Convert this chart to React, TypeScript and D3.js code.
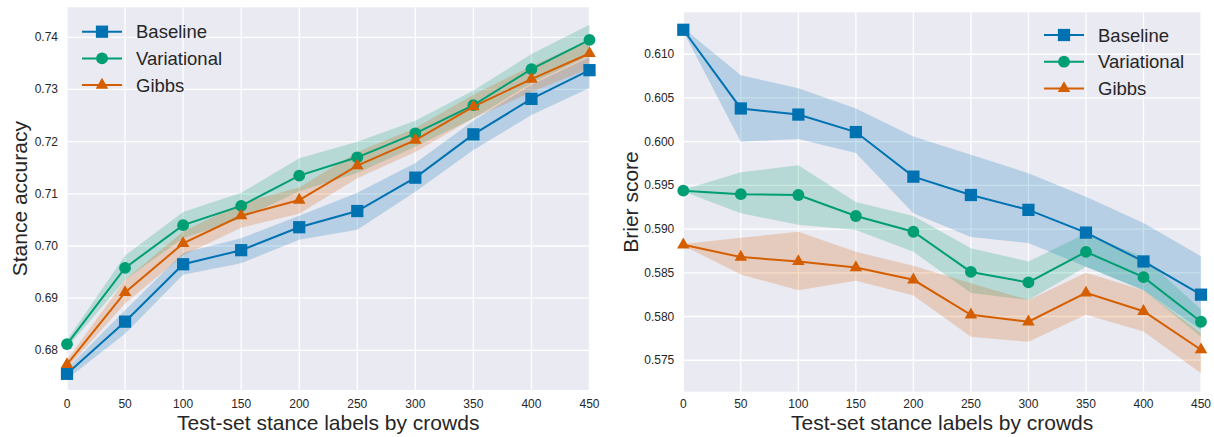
import React from "react";
import * as d3 from "d3";

// x positions: test-set stance labels by crowds
const crowdLabels = [0, 50, 100, 150, 200, 250, 300, 350, 400, 450];

// left: stance accuracy (mean, lower, upper)
const accBaseline = [0.6755, 0.6855, 0.6965, 0.6992, 0.7036, 0.7067, 0.7131, 0.7214, 0.7282, 0.7337];
const accBaselineLo = [0.6745, 0.6832, 0.6945, 0.6967, 0.7012, 0.7031, 0.7104, 0.7184, 0.7251, 0.7303];
const accBaselineHi = [0.6765, 0.6877, 0.6987, 0.7015, 0.7058, 0.7102, 0.7159, 0.724, 0.7309, 0.7362];
const accVariational = [0.6812, 0.6958, 0.704, 0.7077, 0.7135, 0.717, 0.7216, 0.727, 0.7339, 0.7395];
const accVariationalLo = [0.6805, 0.6935, 0.7015, 0.7052, 0.7105, 0.714, 0.719, 0.7245, 0.7312, 0.7365];
const accVariationalHi = [0.682, 0.6982, 0.7065, 0.7102, 0.7168, 0.72, 0.724, 0.7298, 0.7368, 0.7424];
const accGibbs = [0.6773, 0.6911, 0.7005, 0.7058, 0.7088, 0.7154, 0.7203, 0.7267, 0.732, 0.7369];
const accGibbsLo = [0.6765, 0.689, 0.6982, 0.7035, 0.7062, 0.713, 0.718, 0.7245, 0.7295, 0.734];
const accGibbsHi = [0.6782, 0.6935, 0.7028, 0.7082, 0.7112, 0.718, 0.7226, 0.729, 0.7345, 0.7395];

// right: brier score (mean, lower, upper)
const brierBaseline = [0.6128, 0.6038, 0.6031, 0.6011, 0.596, 0.5939, 0.5922, 0.5896, 0.5863, 0.5825];
const brierBaselineLo = [0.6126, 0.6, 0.6003, 0.5987, 0.5918, 0.5891, 0.5884, 0.5857, 0.583, 0.5785];
const brierBaselineHi = [0.613, 0.6076, 0.6061, 0.6038, 0.6006, 0.5985, 0.5964, 0.5937, 0.5907, 0.5869];
const brierVariational = [0.5944, 0.594, 0.5939, 0.5915, 0.5897, 0.5851, 0.5839, 0.5874, 0.5845, 0.5794];
const brierVariationalLo = [0.5943, 0.5918, 0.5905, 0.5899, 0.5874, 0.5827, 0.5819, 0.5857, 0.583, 0.5777];
const brierVariationalHi = [0.5945, 0.5965, 0.5973, 0.5931, 0.5915, 0.5878, 0.5863, 0.5895, 0.5868, 0.5808];
const brierGibbs = [0.5882, 0.5868, 0.5863, 0.5856, 0.5842, 0.5802, 0.5794, 0.5827, 0.5806, 0.5762];
const brierGibbsLo = [0.5881, 0.5848, 0.583, 0.5841, 0.5824, 0.5777, 0.5771, 0.5802, 0.5783, 0.5735];
const brierGibbsHi = [0.5883, 0.589, 0.5897, 0.5874, 0.5858, 0.5838, 0.5819, 0.585, 0.583, 0.5781];

const accTicks = [0.68, 0.69, 0.7, 0.71, 0.72, 0.73, 0.74];
const brierTicks = [0.575, 0.58, 0.585, 0.59, 0.595, 0.6, 0.605, 0.61];

const methods = ["Baseline", "Variational", "Gibbs"];
const colors = ["#0072B2", "#009E73", "#D55E00"];
const shapes = [d3.symbolSquare, d3.symbolCircle, d3.symbolTriangle];
const markerSizes = [150, 110, 68];

const FONT = "'Liberation Sans', Arial, sans-serif";

type Series = { mean: number[]; lo: number[]; hi: number[] };

function Panel({ box, yDomain, yTicks, fmt, series, yTitle, legendX, legendY, titleX }: any) {
  const x = d3.scaleLinear().domain([0, 450]).range([box.left, box.right]);
  const y = d3.scaleLinear().domain(yDomain).range([box.bottom, box.top]);

  const line = d3.line<number>().x((d, i) => x(crowdLabels[i])).y((d) => y(d));
  const area = (s: Series) =>
    d3
      .area<number>()
      .x((d, i) => x(crowdLabels[i]))
      .y0((d, i) => y(s.lo[i]))
      .y1((d, i) => y(s.hi[i]))(s.mean);

  const cy = (box.top + box.bottom) / 2;
  const cx = (box.left + box.right) / 2;

  return (
    <g>
      <rect x={box.left} y={box.top} width={box.right - box.left} height={box.bottom - box.top} fill="#EAEAF2" />
      {crowdLabels.map((v) => (
        <line key={"gx" + v} x1={x(v)} x2={x(v)} y1={box.top} y2={box.bottom} stroke="#fff" strokeWidth={1.3} />
      ))}
      {yTicks.map((v: number) => (
        <line key={"gy" + v} x1={box.left} x2={box.right} y1={y(v)} y2={y(v)} stroke="#fff" strokeWidth={1.3} />
      ))}
      {series.map((s: Series, k: number) => (
        <path key={"band" + k} d={area(s) || ""} fill={colors[k]} fillOpacity={0.22} />
      ))}
      {series.map((s: Series, k: number) => (
        <g key={"ser" + k}>
          <path d={line(s.mean) || ""} fill="none" stroke={colors[k]} strokeWidth={2} />
          {s.mean.map((v, i) => (
            <path
              key={i}
              transform={`translate(${x(crowdLabels[i])},${y(v)})`}
              d={d3.symbol(shapes[k], markerSizes[k])() || ""}
              fill={colors[k]}
            />
          ))}
        </g>
      ))}
      {crowdLabels.map((v) => (
        <text key={"tx" + v} x={x(v)} y={408} textAnchor="middle" fontSize={12} fill="#262626" fontFamily={FONT}>
          {v}
        </text>
      ))}
      {yTicks.map((v: number) => (
        <text key={"ty" + v} x={box.left - 9} y={y(v) + 4} textAnchor="end" fontSize={12} fill="#262626" fontFamily={FONT}>
          {fmt(v)}
        </text>
      ))}
      <text x={cx} y={430} textAnchor="middle" fontSize={21} fill="#262626" fontFamily={FONT}>
        Test-set stance labels by crowds
      </text>
      <text transform={`translate(${titleX},${cy}) rotate(-90)`} textAnchor="middle" fontSize={21} fill="#262626" fontFamily={FONT}>
        {yTitle}
      </text>
      {methods.map((m, k) => {
        const ly = legendY + k * 26.7;
        return (
          <g key={"lg" + m}>
            <line x1={legendX} x2={legendX + 40} y1={ly} y2={ly} stroke={colors[k]} strokeWidth={2} />
            <path transform={`translate(${legendX + 20},${ly})`} d={d3.symbol(shapes[k], markerSizes[k])() || ""} fill={colors[k]} />
            <text x={legendX + 54} y={ly + 6.5} fontSize={18.5} fill="#262626" fontFamily={FONT}>
              {m}
            </text>
          </g>
        );
      })}
    </g>
  );
}

export default function App() {
  const leftSeries: Series[] = [
    { mean: accBaseline, lo: accBaselineLo, hi: accBaselineHi },
    { mean: accVariational, lo: accVariationalLo, hi: accVariationalHi },
    { mean: accGibbs, lo: accGibbsLo, hi: accGibbsHi },
  ];
  const rightSeries: Series[] = [
    { mean: brierBaseline, lo: brierBaselineLo, hi: brierBaselineHi },
    { mean: brierVariational, lo: brierVariationalLo, hi: brierVariationalHi },
    { mean: brierGibbs, lo: brierGibbsLo, hi: brierGibbsHi },
  ];
  return (
    <svg width={1214} height={437} style={{ position: "absolute", left: 0, top: 0, background: "#fff" }}>
      <Panel
        box={{ left: 67, right: 589.5, top: 7.3, bottom: 390 }}
        yDomain={[0.6724, 0.74575]}
        yTicks={accTicks}
        fmt={d3.format(".2f")}
        series={leftSeries}
        yTitle="Stance accuracy"
        titleX={27}
        legendX={82}
        legendY={31.7}
      />
      <Panel
        box={{ left: 683.3, right: 1201, top: 12.3, bottom: 391.7 }}
        yDomain={[0.5714, 0.6148]}
        yTicks={brierTicks}
        fmt={d3.format(".3f")}
        series={rightSeries}
        yTitle="Brier score"
        titleX={638}
        legendX={1044}
        legendY={35}
      />
    </svg>
  );
}
